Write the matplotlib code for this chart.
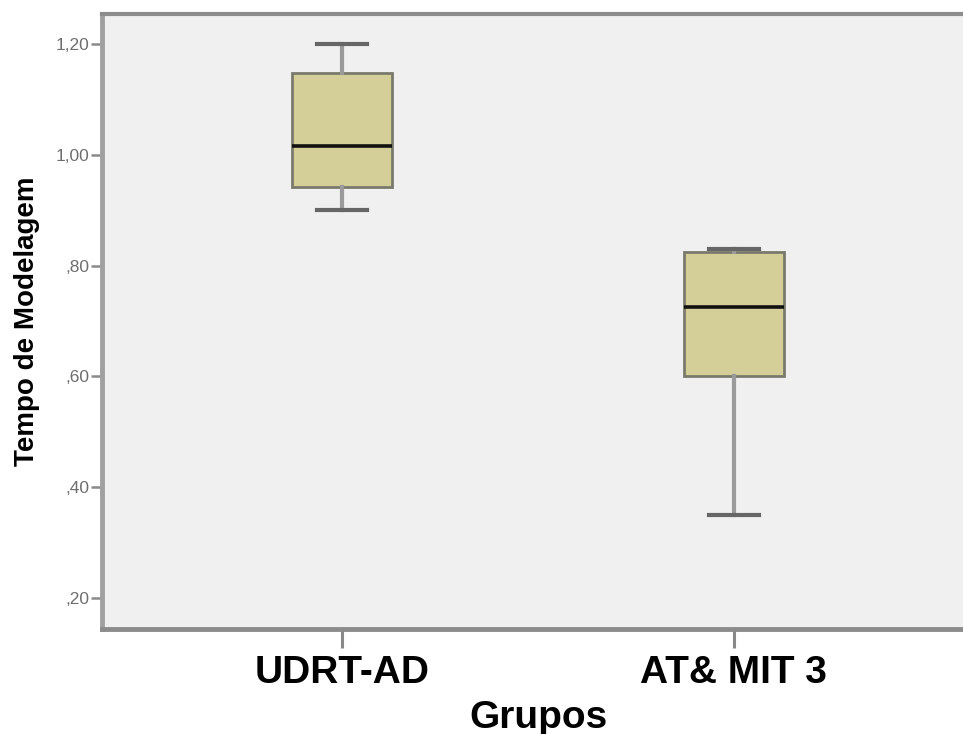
import matplotlib
matplotlib.use("Agg")
import matplotlib.pyplot as plt

# Group summary statistics (Tempo de Modelagem)
grupos = ["UDRT-AD", "AT& MIT 3"]
whisker_low = [0.90, 0.35]
q1 = [0.942, 0.601]
median = [1.015, 0.725]
q3 = [1.148, 0.825]
whisker_high = [1.20, 0.830]

y_ticks = [0.20, 0.40, 0.60, 0.80, 1.00, 1.20]
y_tick_labels = [",20", ",40", ",60", ",80", "1,00", "1,20"]

plt.rcParams["font.family"] = ["Liberation Sans", "DejaVu Sans"]

fig = plt.figure(figsize=(9.63, 7.34), dpi=100)
fig.patch.set_facecolor("white")
ax = fig.add_axes([102 / 963, 1 - 629 / 734, (975 - 102) / 963, (629 - 14) / 734])
ax.set_facecolor("#f0f0f0")

stats = []
for i, g in enumerate(grupos):
    stats.append(dict(label=g, whislo=whisker_low[i], q1=q1[i], med=median[i],
                      q3=q3[i], whishi=whisker_high[i], fliers=[]))

ax.bxp(stats, positions=[1, 2], widths=0.255, patch_artist=True,
       showfliers=False,
       boxprops=dict(facecolor="#d4cf98", edgecolor="#7a7a6c", linewidth=2.0),
       medianprops=dict(color="#111111", linewidth=2.6),
       whiskerprops=dict(color="#9a9a9a", linewidth=3.0),
       capprops=dict(color="#666666", linewidth=3.0),
       capwidths=0.128)

ax.set_xlim(0.388, 2.615)
ax.set_ylim(0.144, 1.254)

ax.set_yticks(y_ticks)
ax.set_yticklabels(y_tick_labels, fontsize=12.5, color="#6e6e6e")
ax.set_xticks([1, 2])
ax.set_xticklabels(grupos, fontsize=28, fontweight="bold", color="black")

ax.tick_params(axis="y", length=8, width=1.8, color="#8a8a8a", pad=1)
ax.tick_params(axis="x", length=14, width=2.2, color="#8a8a8a", pad=5)

ax.set_ylabel("Tempo de Modelagem", fontsize=20, fontweight="bold", labelpad=11)
ax.set_xlabel("Grupos", fontsize=28, fontweight="bold", labelpad=6)

ax.spines["right"].set_visible(False)
ax.spines["left"].set_color("#a0a0a0")
ax.spines["left"].set_linewidth(3.5)
ax.spines["top"].set_color("#8c8c8c")
ax.spines["top"].set_linewidth(3.0)
ax.spines["bottom"].set_color("#8c8c8c")
ax.spines["bottom"].set_linewidth(3.5)

fig.savefig("out.png", dpi=100, facecolor="white")
